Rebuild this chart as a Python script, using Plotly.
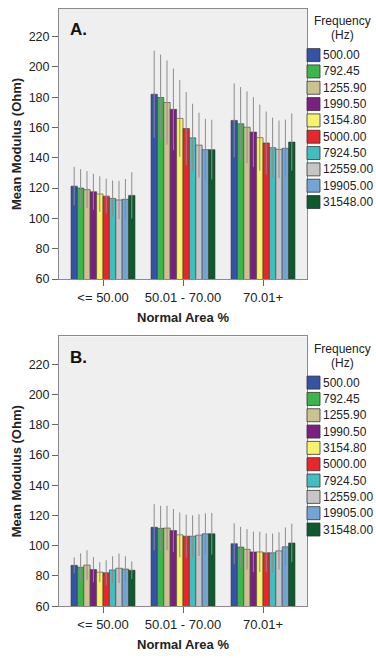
import plotly.graph_objects as go

W, H = 376, 658

categories = ["<= 50.00", "50.01 - 70.00", "70.01+"]
frequencies = ["500.00", "792.45", "1255.90", "1990.50", "3154.80",
               "5000.00", "7924.50", "12559.00", "19905.00", "31548.00"]
colors = ["#3553a6", "#3cb54a", "#cbc38e", "#7a2082", "#f7f26b",
          "#e8262b", "#41bfc0", "#c6c6c6", "#72a4d6", "#0d5a2c"]

# Panel A: mean modulus per frequency, for each category (<=50, 50-70, 70+)
a_le50 = [121.3, 120.0, 119.0, 117.6, 116.1, 114.7, 113.2, 112.2, 112.6, 115.2]
a_50_70 = [182.0, 179.8, 176.5, 172.0, 166.0, 159.3, 153.2, 148.4, 145.4, 145.4]
a_70p = [164.7, 162.5, 160.2, 157.0, 153.3, 149.8, 146.7, 145.6, 146.3, 150.4]
a_err_le50 = [12.7, 12.5, 12.2, 11.9, 11.7, 11.6, 11.8, 12.6, 13.4, 15.3]
a_err_50_70 = [28.8, 28.3, 27.8, 26.9, 25.3, 24.1, 22.5, 21.4, 20.3, 19.7]
a_err_70p = [24.4, 24.2, 23.7, 23.0, 21.8, 20.8, 19.8, 19.0, 18.9, 18.9]

# Panel B
b_le50 = [87.0, 85.8, 87.2, 84.2, 82.5, 82.1, 84.0, 85.1, 84.6, 83.8]
b_50_70 = [112.2, 111.5, 111.7, 110.0, 107.2, 106.3, 106.3, 107.0, 107.9, 107.9]
b_70p = [101.3, 99.1, 97.6, 95.9, 95.9, 95.3, 95.3, 96.6, 99.3, 101.8]
b_err_le50 = [5.2, 9.2, 9.8, 8.3, 6.6, 8.3, 9.0, 9.7, 8.4, 5.8]
b_err_50_70 = [15.3, 14.9, 14.7, 14.3, 14.8, 14.3, 13.8, 13.8, 13.5, 13.8]
b_err_70p = [13.6, 13.4, 13.4, 13.4, 13.4, 12.8, 12.8, 12.3, 12.8, 12.8]

panels = [
    dict(label="A.", vals=[a_le50, a_50_70, a_70p], errs=[a_err_le50, a_err_50_70, a_err_70p],
         xa="x", ya="y", top=9, bottom=282, ymax=238.3),
    dict(label="B.", vals=[b_le50, b_50_70, b_70p], errs=[b_err_le50, b_err_50_70, b_err_70p],
         xa="x2", ya="y2", top=340, bottom=612.7, ymax=238.5),
]

FONT = "Liberation Sans, Arial, sans-serif"
fig = go.Figure()

for p in panels:
    for i, f in enumerate(frequencies):
        fig.add_trace(go.Bar(
            x=categories,
            y=[p["vals"][c][i] for c in range(3)],
            name=f,
            marker=dict(color=colors[i], line=dict(color="#3a3a3a", width=0.6)),
            error_y=dict(type="data", array=[p["errs"][c][i] for c in range(3)],
                         visible=True, color="#8c8c8c", thickness=1, width=0),
            xaxis=p["xa"], yaxis=p["ya"], showlegend=False, hoverinfo="skip",
        ))

# legend swatches on a pixel-space overlay axis
leg_x = 313.5
leg_step = 16.5
for p in panels:
    first = p["top"] + 46.7
    ys = [first + i * leg_step for i in range(len(frequencies))]
    fig.add_trace(go.Scatter(
        x=[leg_x] * len(frequencies), y=ys, mode="markers",
        marker=dict(symbol="square", size=13, color=colors,
                    line=dict(color="#333333", width=0.8)),
        xaxis="x3", yaxis="y3", showlegend=False, hoverinfo="skip", cliponaxis=False,
    ))

annotations = []
for p in panels:
    first = p["top"] + 46.7
    for i, f in enumerate(frequencies):
        annotations.append(dict(
            x=leg_x + 7.5, y=first + i * leg_step, xref="x3", yref="y3",
            text=f, showarrow=False, xanchor="left", yanchor="middle",
            font=dict(family=FONT, size=12, color="#222"),
        ))
    annotations.append(dict(x=342, y=p["top"] + 12.5, xref="x3", yref="y3",
                            text="Frequency", showarrow=False, xanchor="center",
                            yanchor="middle", font=dict(family=FONT, size=12, color="#222")))
    annotations.append(dict(x=342, y=p["top"] + 26.5, xref="x3", yref="y3",
                            text="(Hz)", showarrow=False, xanchor="center",
                            yanchor="middle", font=dict(family=FONT, size=12, color="#222")))
    annotations.append(dict(x=68, y=p["top"] + 21, xref="x3", yref="y3",
                            text="<b>" + p["label"] + "</b>", showarrow=False,
                            xanchor="left", yanchor="middle",
                            font=dict(family=FONT, size=17, color="#111")))

shapes = []
for p in panels:
    shapes.append(dict(type="rect", xref=p["xa"] + " domain", yref=p["ya"] + " domain",
                       x0=0, x1=1, y0=0, y1=1, fillcolor="#efefef",
                       line=dict(width=0), layer="below"))

def xaxis_cfg(anchor):
    return dict(
        domain=[59 / W, 307 / W], anchor=anchor, type="category",
        range=[-0.55, 2.55], showline=True, mirror=True, linecolor="#8a8a8a", linewidth=1,
        ticks="outside", ticklen=6, tickcolor="#666", tickwidth=1,
        tickfont=dict(family=FONT, size=13, color="#222"),
        title=dict(text="<b>Normal Area %</b>", font=dict(family=FONT, size=13, color="#222"),
                   standoff=9),
        showgrid=False, zeroline=False, fixedrange=True,
    )

def yaxis_cfg(anchor, top, bottom, ymax):
    return dict(
        domain=[(H - bottom) / H, (H - top) / H], anchor=anchor,
        range=[60, ymax], tick0=60, dtick=20,
        showline=True, mirror=True, linecolor="#8a8a8a", linewidth=1,
        ticks="outside", ticklen=6, tickcolor="#666", tickwidth=1,
        tickfont=dict(family=FONT, size=12.5, color="#222"),
        title=dict(text="<b>Mean Modulus (Ohm)</b>", font=dict(family=FONT, size=13, color="#222"),
                   standoff=4),
        showgrid=False, zeroline=False, fixedrange=True,
    )

fig.update_layout(
    width=W, height=H, margin=dict(l=0, r=0, t=0, b=0),
    paper_bgcolor="white", plot_bgcolor="rgba(0,0,0,0)",
    barmode="group", bargap=0.2, bargroupgap=0,
    xaxis=xaxis_cfg("y"),
    yaxis=yaxis_cfg("x", panels[0]["top"], panels[0]["bottom"], panels[0]["ymax"]),
    xaxis2=xaxis_cfg("y2"),
    yaxis2=yaxis_cfg("x2", panels[1]["top"], panels[1]["bottom"], panels[1]["ymax"]),
    xaxis3=dict(domain=[0, 1], range=[0, W], visible=False, anchor="y3", fixedrange=True),
    yaxis3=dict(domain=[0, 1], range=[H, 0], visible=False, anchor="x3", fixedrange=True),
    annotations=annotations,
    shapes=shapes,
    showlegend=False,
)

fig.write_html("out.html", config={"displayModeBar": False},
               post_script="document.body.style.margin='0';document.body.style.overflow='hidden';")
